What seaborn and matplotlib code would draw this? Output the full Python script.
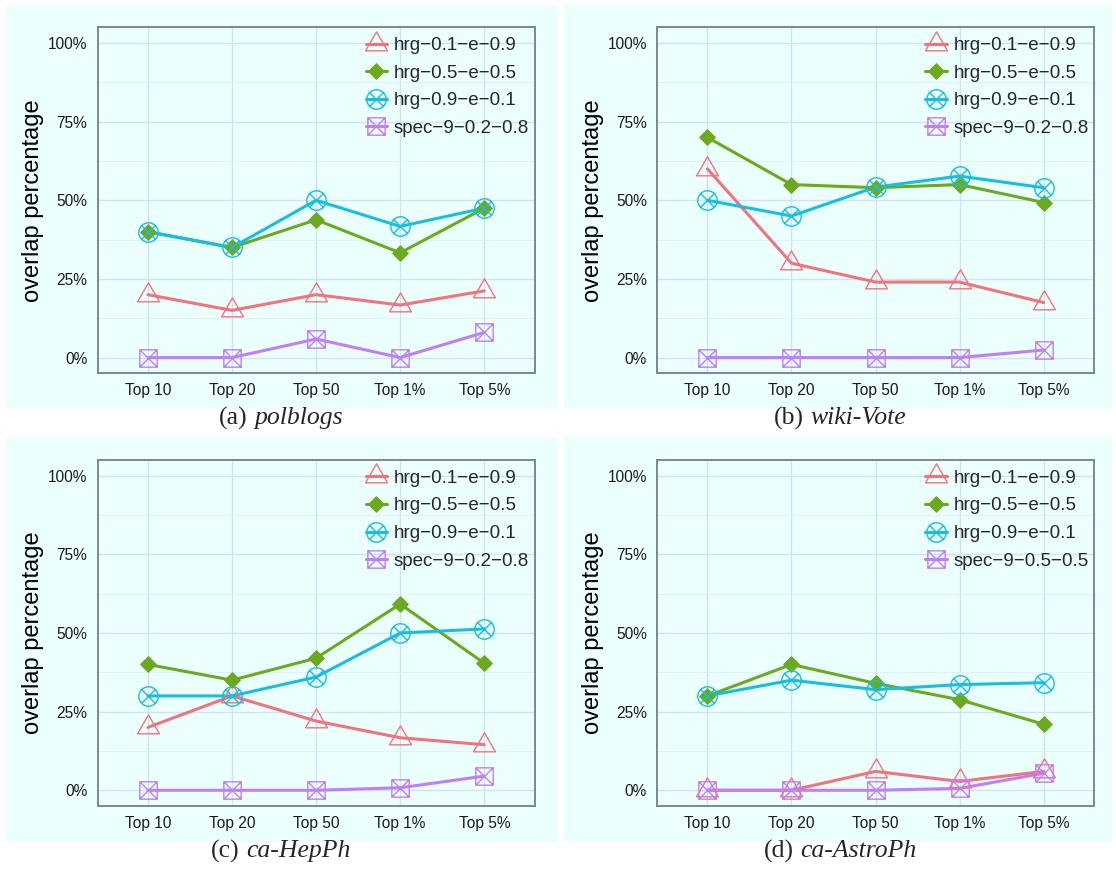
import numpy as np
import pandas as pd
import matplotlib
matplotlib.use("Agg")
import matplotlib.pyplot as plt
import seaborn as sns
from matplotlib.path import Path
from matplotlib.lines import Line2D
from matplotlib.ticker import PercentFormatter, FixedLocator
from matplotlib.offsetbox import TextArea, HPacker, AnnotationBbox
from matplotlib.patches import Rectangle

# ---------------- data ----------------
categories = ["Top 10", "Top 20", "Top 50", "Top 1%", "Top 5%"]
hrg_names = ["hrg\u22120.1\u2212e\u22120.9", "hrg\u22120.5\u2212e\u22120.5", "hrg\u22120.9\u2212e\u22120.1"]
spec_names = ["spec\u22129\u22120.2\u22120.8", "spec\u22129\u22120.2\u22120.8",
              "spec\u22129\u22120.2\u22120.8", "spec\u22129\u22120.5\u22120.5"]
panel_tags = ["(a)", "(b)", "(c)", "(d)"]
panel_names = ["polblogs", "wiki-Vote", "ca-HepPh", "ca-AstroPh"]

polblogs_hrg01 = [20.0, 15.0, 20.0, 16.7, 21.2]
polblogs_hrg05 = [40.0, 35.0, 43.8, 33.3, 47.5]
polblogs_hrg09 = [40.0, 35.0, 50.0, 41.7, 47.5]
polblogs_spec = [0.0, 0.0, 5.9, 0.0, 8.0]

wikivote_hrg01 = [60.0, 30.0, 24.0, 24.0, 17.5]
wikivote_hrg05 = [70.0, 55.0, 54.0, 55.0, 49.3]
wikivote_hrg09 = [50.0, 45.0, 54.2, 57.7, 54.0]
wikivote_spec = [0.0, 0.0, 0.0, 0.0, 2.4]

hepph_hrg01 = [20.0, 30.0, 22.0, 16.7, 14.5]
hepph_hrg05 = [40.0, 35.0, 42.0, 59.2, 40.4]
hepph_hrg09 = [30.0, 30.0, 36.0, 50.0, 51.3]
hepph_spec = [0.0, 0.0, 0.0, 0.8, 4.5]

astroph_hrg01 = [0.0, 0.0, 6.0, 2.8, 6.0]
astroph_hrg05 = [30.0, 40.0, 34.0, 28.8, 21.0]
astroph_hrg09 = [30.0, 35.0, 32.0, 33.6, 34.2]
astroph_spec = [0.0, 0.0, 0.0, 0.6, 5.4]

panels_values = [
    [polblogs_hrg01, polblogs_hrg05, polblogs_hrg09, polblogs_spec],
    [wikivote_hrg01, wikivote_hrg05, wikivote_hrg09, wikivote_spec],
    [hepph_hrg01, hepph_hrg05, hepph_hrg09, hepph_spec],
    [astroph_hrg01, astroph_hrg05, astroph_hrg09, astroph_spec],
]

# ---------------- style ----------------
sns.set_style("white")
plt.rcParams["font.family"] = ["Liberation Sans", "DejaVu Sans"]

colors = ["#F2737B", "#6BAA1F", "#17BEDF", "#BF7FFA"]
BG = "#EBFFFD"
GRID_MAJ = "#D3E1F6"
GRID_MIN = "#E2EDF8"
FRAME = "#7C8695"

# marker paths
tri = Path([(0, 1), (-0.866, -0.5), (0.866, -0.5), (0, 1)],
           [Path.MOVETO, Path.LINETO, Path.LINETO, Path.CLOSEPOLY])
diamond = Path([(0, 1), (1, 0), (0, -1), (-1, 0), (0, 1)],
               [Path.MOVETO, Path.LINETO, Path.LINETO, Path.LINETO, Path.CLOSEPOLY])
d = 0.7071
circx = Path.make_compound_path(
    Path.unit_circle(),
    Path([(-d, -d), (d, d), (-d, d), (d, -d)],
         [Path.MOVETO, Path.LINETO, Path.MOVETO, Path.LINETO]))
sqx = Path.make_compound_path(
    Path([(-1, -1), (1, -1), (1, 1), (-1, 1), (-1, -1)],
         [Path.MOVETO, Path.LINETO, Path.LINETO, Path.LINETO, Path.CLOSEPOLY]),
    Path([(-1, -1), (1, 1), (-1, 1), (1, -1)],
         [Path.MOVETO, Path.LINETO, Path.MOVETO, Path.LINETO]))
markers = [tri, diamond, circx, sqx]
msizes = [18.2, 11.0, 14.0, 12.5]
filled = [False, True, False, False]

W, H = 1116, 872
fig = plt.figure(figsize=(W / 100, H / 100), dpi=100)
fig.patch.set_facecolor("white")

axes_px = [(97.5, 27.3, 534.7, 373.3), (657.0, 27.3, 1094.0, 373.3),
           (97.5, 460.0, 534.7, 806.0), (657.0, 460.0, 1094.0, 806.0)]
bg_px = [(5, 5, 558, 409), (564, 5, 1112, 409),
         (5, 437, 558, 842), (564, 437, 1112, 842)]
cap_px = [(281, 418), (840, 418), (281, 851), (840, 851)]

LW = 2.2
for p in range(4):
    x0, y0, x1, y1 = bg_px[p]
    fig.add_artist(Rectangle((x0 / W, 1 - y1 / H), (x1 - x0) / W, (y1 - y0) / H,
                             transform=fig.transFigure, facecolor=BG,
                             edgecolor="none", zorder=-5))
    l, t, r, b = axes_px[p]
    ax = fig.add_axes([l / W, 1 - b / H, (r - l) / W, (b - t) / H])
    ax.set_facecolor(BG)
    labels = hrg_names + [spec_names[p]]
    vals = panels_values[p]
    # lines first
    for i in range(4):
        sns.lineplot(x=categories, y=vals[i], color=colors[i], lw=LW, ax=ax,
                     zorder=3, legend=False)
    # then points
    for i in range(4):
        sns.lineplot(x=categories, y=vals[i], color=colors[i], linestyle="none",
                     marker=markers[i], ms=msizes[i],
                     mfc=colors[i] if filled[i] else "none",
                     mec=colors[i], mew=1.0, ax=ax, zorder=4, legend=False)

    ax.set_xlim(-0.6, 4.6)
    ax.set_ylim(-5, 105)
    ax.yaxis.set_major_locator(FixedLocator([0, 25, 50, 75, 100]))
    ax.yaxis.set_minor_locator(FixedLocator([12.5, 37.5, 62.5, 87.5]))
    ax.yaxis.set_major_formatter(PercentFormatter(100, decimals=0))
    ax.grid(True, which="major", color=GRID_MAJ, lw=1.0, zorder=0)
    ax.grid(True, which="minor", axis="y", color=GRID_MIN, lw=0.6, zorder=0)
    ax.set_axisbelow(True)
    ax.tick_params(axis="both", which="major", length=4.3, width=1.0,
                   color="#222222", labelsize=11.2, labelcolor="#1a1a1a", pad=3)
    ax.tick_params(axis="y", which="minor", length=0)
    for s in ax.spines.values():
        s.set_color(FRAME)
        s.set_linewidth(1.4)
    ax.set_xlabel("")
    ax.set_ylabel("overlap percentage", fontsize=17, color="black")
    ax.yaxis.set_label_coords(-0.122, 0.5)

    handles = [Line2D([], [], color=colors[i], lw=LW, marker=markers[i],
                      ms=msizes[i], mfc=colors[i] if filled[i] else "none",
                      mec=colors[i], mew=1.0) for i in range(4)]
    ax.legend(handles, labels, loc="upper left", bbox_to_anchor=(0.613, 0.972),
              frameon=False, fontsize=13.5, borderpad=0, borderaxespad=0,
              handlelength=1.17, handletextpad=0.35, labelspacing=0.56)

    cx, cy = cap_px[p]
    ta1 = TextArea(panel_tags[p], textprops=dict(family="Liberation Serif", size=18.5))
    ta2 = TextArea(panel_names[p], textprops=dict(family="Liberation Serif",
                                                  style="italic", size=18.5))
    pack = HPacker(children=[ta1, ta2], align="baseline", pad=0, sep=5)
    ab = AnnotationBbox(pack, (cx / W, 1 - cy / H), xycoords="figure fraction",
                        frameon=False, box_alignment=(0.5, 0.5))
    fig.add_artist(ab)

fig.savefig("out.png", dpi=100)
